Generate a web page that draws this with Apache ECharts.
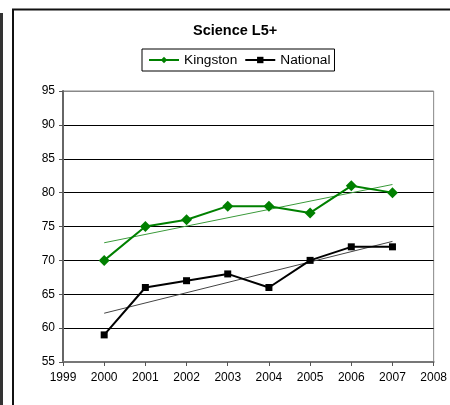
<!DOCTYPE html>
<html>
<head>
<meta charset="utf-8">
<script src="https://cdn.jsdelivr.net/npm/echarts@6/dist/echarts.min.js"></script>
<style>
  html, body { margin: 0; padding: 0; background: #fff; }
  #chart { width: 450px; height: 405px; }
</style>
</head>
<body>
<div id="chart"></div>
<script>
  // values
  var years = [2000, 2001, 2002, 2003, 2004, 2005, 2006, 2007]
  var kingston = [70, 75, 76, 78, 78, 77, 81, 80]
  var national = [59, 66, 67, 68, 66, 70, 72, 72]
  // trendline ends (first / last year)
  var kingstonTrend = [72.6, 81.2]
  var nationalTrend = [62.2, 72.8]

  function pairs(xs, ys) {
    return xs.map(function(x, i) { return [x, ys[i]] })
  }
  var trendYears = [years[0], years[years.length - 1]]

  var font = 'Liberation Sans, Arial, sans-serif'
  var chart = echarts.init(document.getElementById('chart'))
  chart.setOption({
    animation: false,
    textStyle: { fontFamily: font },
    title: {
      text: 'Science L5+',
      left: 193,
      top: 23,
      padding: 0,
      textStyle: { fontSize: 14.5, fontWeight: 'bold', color: '#000', fontFamily: font }
    },
    legend: {
      data: ['Kingston', 'National'],
      left: 142,
      top: 49,
      padding: [4, 4, 4, 6],
      itemWidth: 30,
      itemHeight: 8,
      itemGap: 7,
      borderColor: '#000',
      borderWidth: 1,
      backgroundColor: '#fff',
      textStyle: { fontSize: 13.7, color: '#000', fontFamily: font }
    },
    grid: {
      left: 63,
      top: 91,
      right: 15,
      bottom: 43,
      show: true,
      borderColor: '#888',
      borderWidth: 1
    },
    xAxis: {
      type: 'value',
      min: 1999,
      max: 2008,
      interval: 1,
      axisLine: { lineStyle: { color: '#777', width: 2 } },
      axisTick: { inside: false, length: 4, lineStyle: { color: '#555' } },
      axisLabel: {
        color: '#000', fontSize: 12, margin: 10, fontFamily: font,
        formatter: function(v) { return String(v) }
      },
      splitLine: { show: false }
    },
    yAxis: {
      type: 'value',
      min: 55,
      max: 95,
      interval: 5,
      axisLine: { show: true, lineStyle: { color: '#666', width: 2 } },
      axisTick: { show: true, inside: false, length: 4, lineStyle: { color: '#555' } },
      axisLabel: { color: '#000', fontSize: 12, margin: 8, fontFamily: font },
      splitLine: {
        lineStyle: {
          color: ['#666', '#000', '#000', '#000', '#000', '#000', '#000', '#000', '#888'],
          width: 1
        }
      }
    },
    series: [
      {
        name: 'Kingston trend',
        type: 'line',
        data: pairs(trendYears, kingstonTrend),
        symbol: 'none',
        silent: true,
        lineStyle: { color: '#3a9a3a', width: 1 },
        z: 1
      },
      {
        name: 'National trend',
        type: 'line',
        data: pairs(trendYears, nationalTrend),
        symbol: 'none',
        silent: true,
        lineStyle: { color: '#444', width: 1 },
        z: 1
      },
      {
        name: 'Kingston',
        type: 'line',
        data: pairs(years, kingston),
        symbol: 'diamond',
        symbolSize: 11,
        itemStyle: { color: '#008000' },
        lineStyle: { color: '#008000', width: 2 },
        z: 3
      },
      {
        name: 'National',
        type: 'line',
        data: pairs(years, national),
        symbol: 'rect',
        symbolSize: 7,
        itemStyle: { color: '#000' },
        lineStyle: { color: '#000', width: 2 },
        z: 3
      }
    ],
    graphic: [
      {
        type: 'rect',
        shape: { x: 13, y: 9.5, width: 460, height: 420 },
        style: { fill: 'none', stroke: '#111', lineWidth: 2 },
        silent: true
      },
      {
        type: 'line',
        shape: { x1: 1.5, y1: 13, x2: 1.5, y2: 405 },
        style: { stroke: '#333', lineWidth: 3 },
        silent: true
      }
    ]
  })
</script>
</body>
</html>
